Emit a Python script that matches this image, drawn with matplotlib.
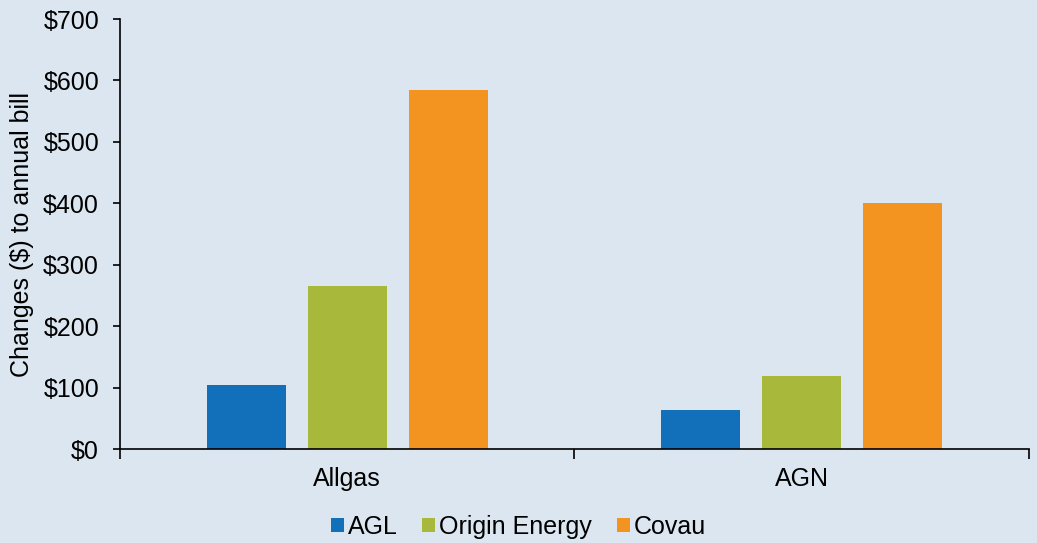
import numpy as np
import matplotlib
matplotlib.use("Agg")
import matplotlib.pyplot as plt
from matplotlib.ticker import FuncFormatter

# data
categories = ["Allgas", "AGN"]
retailers = ["AGL", "Origin Energy", "Covau"]
agl = [104, 63]
origin = [265, 119]
covau = [584, 401]
colors = ["#1170b9", "#a8b83b", "#f39420"]

plt.rcParams['font.family'] = ['Liberation Sans', 'DejaVu Sans']
bg = "#dce6f0"

fig = plt.figure(figsize=(10.37, 5.43), dpi=100, facecolor=bg)
ax = fig.add_axes([0.1157, 0.173, 0.8766, 0.792])
ax.set_facecolor(bg)

x = np.arange(len(categories))
width = 0.174
step = 0.222
for i, (vals, name) in enumerate(zip([agl, origin, covau], retailers)):
    ax.bar(x + (i - 1) * step, vals, width, color=colors[i], label=name)

ax.set_xlim(-0.5, 1.5)
ax.set_ylim(0, 700)
ax.set_yticks(range(0, 701, 100))
ax.yaxis.set_major_formatter(FuncFormatter(lambda v, p: "\\$%d" % v))

# category labels centred, ticks at the boundaries
ax.set_xticks([-0.5, 0.5, 1.5])
ax.set_xticklabels([])
ax.set_xticks(x, minor=True)
ax.set_xticklabels(categories, minor=True)
ax.tick_params(axis='x', which='major', direction='out', length=7, width=1.2)
ax.tick_params(axis='x', which='minor', length=0, pad=13, labelsize=18)
ax.tick_params(axis='y', direction='out', length=5, width=1.2, labelsize=18, pad=10)

for s in ["top", "right"]:
    ax.spines[s].set_visible(False)
for s in ["left", "bottom"]:
    ax.spines[s].set_linewidth(1.2)

ax.set_ylabel("Changes (\\$) to annual bill", fontsize=18)
ax.yaxis.set_label_coords(-0.095, 0.5)

fig.legend(loc="center", bbox_to_anchor=(0.5, 1 - 527 / 543), ncol=3, frameon=False,
           fontsize=18, handlelength=0.52, handleheight=0.52, handletextpad=0.16,
           columnspacing=1.0)

fig.savefig("out.png", dpi=100, facecolor=bg)
